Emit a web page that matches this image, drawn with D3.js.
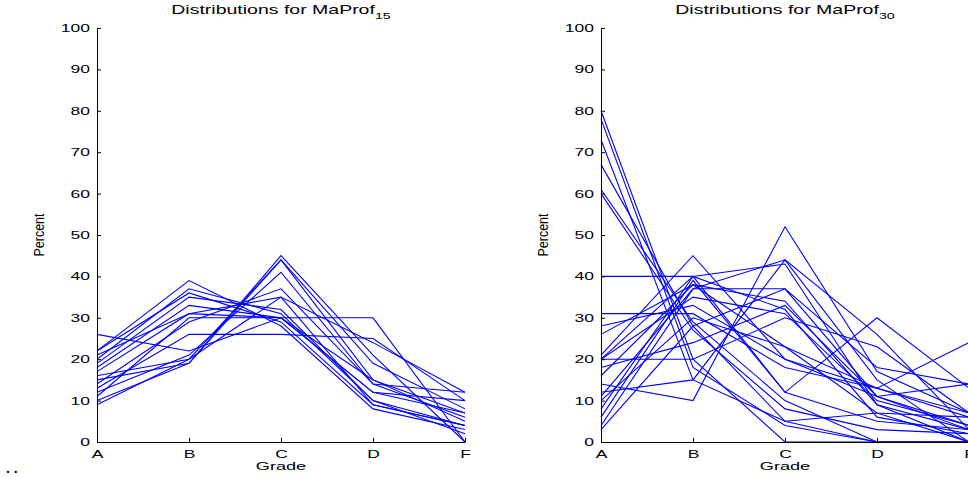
<!DOCTYPE html>
<html>
<head>
<meta charset="utf-8">
<script src="https://cdn.jsdelivr.net/npm/d3@7"></script>
<style>
html,body{margin:0;padding:0;background:#fff;}
svg{display:block;}
text{font-family:"Liberation Sans",Arial,Helvetica,sans-serif;fill:#000;}
</style>
</head>
<body>
<svg id="chart" width="968" height="477"></svg>
<script>
// ---- data ----
const grades = ["A", "B", "C", "D", "F"];
const yTicks = [0, 10, 20, 30, 40, 50, 60, 70, 80, 90, 100];
const titleLeft = ["Distributions for MaProf", "15"];
const titleRight = ["Distributions for MaProf", "30"];
const xLabel = "Grade";
const yLabel = "Percent";

// MaProf15 distributions (A, B, C, D, F)
const prof15 = [
  [26, 22, 30, 12, 10],
  [22, 39, 28, 8, 3],
  [22, 36, 29, 9, 4],
  [21, 31, 35, 9, 4],
  [20, 37, 31, 10, 2],
  [19, 35, 32, 10, 4],
  [18, 33, 30, 12, 7],
  [17, 31, 30, 15, 7],
  [16, 20, 44, 15, 5],
  [15, 19, 45, 21, 0],
  [14, 29, 37, 14, 6],
  [13, 26, 26, 25, 10],
  [12, 21, 41, 14, 12],
  [11, 30, 30, 30, 0],
  [10, 19, 44, 19, 8],
  [9, 20, 35, 24, 12]
];

// MaProf30 distributions (A, B, C, D, F)
const prof30 = [
  [80, 20, 0, 0, 0],
  [78, 18, 4, 0, 0],
  [73, 15, 5, 7, 0],
  [67, 28, 5, 0, 0],
  [61, 29, 10, 0, 0],
  [60, 27, 8, 3, 2],
  [40, 40, 12, 5, 3],
  [31, 31, 18, 13, 7],
  [28, 33, 20, 13, 6],
  [26, 38, 23, 7, 6],
  [21, 45, 20, 11, 3],
  [20, 40, 32, 6, 2],
  [20, 35, 31, 10, 4],
  [20, 20, 30, 23, 7],
  [18, 24, 33, 11, 14],
  [16, 38, 34, 9, 3],
  [14, 10, 52, 17, 7],
  [12, 15, 44, 26, 3],
  [11, 37, 37, 11, 4],
  [8, 40, 43, 9, 0],
  [6, 39, 12, 30, 13],
  [3, 28, 37, 18, 14],
  [4, 37, 44, 15, 0],
  [10, 30, 23, 13, 24]
];

// ---- drawing ----
const svg = d3.select("#chart");
const FONT_T = 10.8, SX_T = 1.62;

function panel(data, title, xRange, percentX) {
  const x = d3.scalePoint().domain(grades).range(xRange);
  const y = d3.scaleLinear().domain([0, 100]).range([442, 28]);
  const g = svg.append("g");

  // lines
  const line = d3.line().x((d, i) => x(grades[i])).y(d => y(d));
  g.append("g").selectAll("path").data(data).join("path")
    .attr("d", line)
    .attr("fill", "none")
    .attr("stroke", "#0000ff")
    .attr("stroke-width", 1.1);

  // y axis
  const ya = g.append("g").attr("transform", `translate(${xRange[0]},0)`)
    .call(d3.axisLeft(y).tickValues(yTicks).tickSizeInner(-4).tickSizeOuter(0).tickPadding(7));
  ya.selectAll("text").each(function () {
    const t = d3.select(this);
    const xx = +t.attr("x");
    t.attr("x", 0).attr("transform", `translate(${xx},0) scale(${SX_T},1)`)
      .style("font-size", FONT_T + "px");
  });
  // x axis
  const xa = g.append("g").attr("transform", `translate(0,442)`)
    .call(d3.axisBottom(x).tickSizeInner(-4).tickSizeOuter(0).tickPadding(8));
  xa.selectAll("text").each(function () {
    const t = d3.select(this);
    const yy = +t.attr("y");
    t.attr("y", 0).attr("transform", `translate(0,${yy}) scale(${SX_T},1)`)
      .style("font-size", FONT_T + "px");
  });
  [ya, xa].forEach(a => {
    a.selectAll("path,line").attr("stroke", "#000").attr("stroke-width", 1);
    a.attr("font-family", null).attr("font-size", null);
  });

  // title
  const cx = (xRange[0] + xRange[1]) / 2;
  const tt = g.append("text")
    .attr("transform", `translate(${cx},14) scale(1.5,1)`)
    .attr("text-anchor", "middle")
    .style("font-size", "13px");
  tt.append("tspan").text(title[0]);
  tt.append("tspan").attr("dy", 5).style("font-size", "9.5px").text(title[1]);

  // x label
  g.append("text")
    .attr("transform", `translate(${(x("C"))},470) scale(1.65,1)`)
    .attr("text-anchor", "middle")
    .style("font-size", "11px")
    .text(xLabel);

  // y label
  g.append("text")
    .attr("transform", `translate(${percentX},235) scale(1.2,1) rotate(-90)`)
    .attr("text-anchor", "middle")
    .style("font-size", "12.5px")
    .text(yLabel);
}

panel(prof15, titleLeft, [97, 465], 44);
panel(prof30, titleRight, [601, 969], 548);

svg.append("text").attr("x", 6).attr("y", 473)
  .style("font-size", "14px").style("font-weight", "bold").text(". .");
</script>
</body>
</html>
